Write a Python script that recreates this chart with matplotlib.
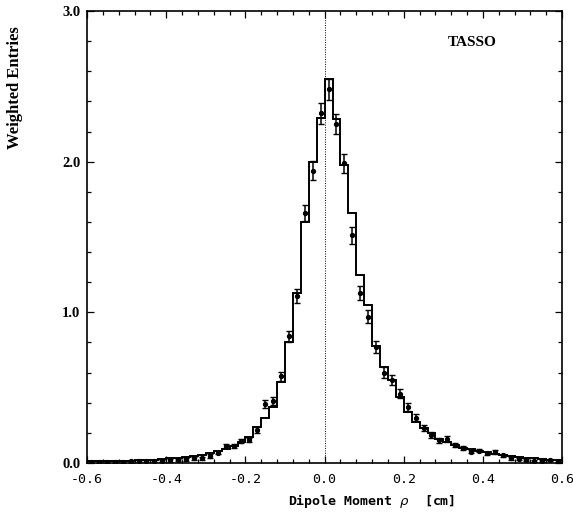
import numpy as np
import matplotlib
matplotlib.use("Agg")
import matplotlib.pyplot as plt
from matplotlib.ticker import MultipleLocator

# bins of 0.02 cm from -0.6 to 0.6
bin_edges = np.linspace(-0.6, 0.6, 61)
bin_centers = 0.5 * (bin_edges[:-1] + bin_edges[1:])

# Monte Carlo histogram (solid line)
mc_hist = [
    0.010, 0.010, 0.012, 0.012, 0.015, 0.015, 0.018, 0.020, 0.022, 0.025,
    0.030, 0.035, 0.040, 0.048, 0.055, 0.065, 0.080, 0.095, 0.110, 0.140,
    0.175, 0.240, 0.300, 0.370, 0.540, 0.800, 1.130, 1.600, 2.000, 2.290,
    2.550, 2.280, 1.980, 1.660, 1.250, 1.050, 0.775, 0.640, 0.550, 0.440,
    0.340, 0.275, 0.230, 0.200, 0.160, 0.140, 0.120, 0.100, 0.090, 0.080,
    0.070, 0.062, 0.055, 0.048, 0.042, 0.036, 0.030, 0.025, 0.020, 0.018,
]

# measured points
data_vals = [
    0.005, 0.008, 0.007, 0.007, 0.008, 0.010, 0.011, 0.012, 0.013, 0.015,
    0.017, 0.020, 0.025, 0.031, 0.031, 0.047, 0.069, 0.110, 0.110, 0.145,
    0.153, 0.220, 0.390, 0.410, 0.575, 0.840, 1.110, 1.660, 1.940, 2.320,
    2.480, 2.250, 1.990, 1.510, 1.130, 0.970, 0.770, 0.600, 0.550, 0.460,
    0.370, 0.300, 0.230, 0.185, 0.150, 0.160, 0.120, 0.100, 0.075, 0.082,
    0.065, 0.073, 0.050, 0.031, 0.027, 0.020, 0.013, 0.012, 0.020, 0.015,
]

data_errs = [
    0.006, 0.006, 0.006, 0.006, 0.006, 0.007, 0.007, 0.007, 0.007, 0.008,
    0.008, 0.008, 0.009, 0.010, 0.010, 0.011, 0.012, 0.013, 0.013, 0.015,
    0.015, 0.018, 0.025, 0.026, 0.030, 0.037, 0.045, 0.055, 0.062, 0.068,
    0.072, 0.066, 0.062, 0.056, 0.048, 0.044, 0.040, 0.035, 0.033, 0.030,
    0.027, 0.024, 0.021, 0.019, 0.017, 0.018, 0.015, 0.014, 0.012, 0.012,
    0.011, 0.011, 0.010, 0.009, 0.008, 0.007, 0.006, 0.006, 0.007, 0.006,
]

fig = plt.figure(figsize=(5.73, 5.13), dpi=100)
ax = fig.add_axes([0.152, 0.0975, 0.829, 0.881])

ax.stairs(mc_hist, bin_edges, baseline=None, color="black", linewidth=1.4)
ax.errorbar(bin_centers, data_vals, yerr=data_errs, fmt="o", color="black",
            markersize=2.8, elinewidth=1.1, capsize=2.2, capthick=1.0)
ax.axvline(0.0, color="black", linestyle=(0, (1, 1.5)), linewidth=0.7)

ax.set_xlim(-0.6, 0.6)
ax.set_ylim(0.0, 3.0)

ax.xaxis.set_major_locator(MultipleLocator(0.2))
ax.xaxis.set_minor_locator(MultipleLocator(0.04))
ax.yaxis.set_major_locator(MultipleLocator(1.0))
ax.yaxis.set_minor_locator(MultipleLocator(0.2))
ax.tick_params(which="both", direction="in", top=True, right=True, width=0.9)
ax.tick_params(which="major", length=5)
ax.tick_params(which="minor", length=3)
for s in ax.spines.values():
    s.set_linewidth(1.2)

ax.set_xticks([-0.6, -0.4, -0.2, 0.0, 0.2, 0.4, 0.6])
ax.set_xticklabels(["-0.6", "-0.4", "-0.2", "0.0", "0.2", "0.4", "0.6"],
                   family="DejaVu Sans Mono", fontsize=9.5)
ax.set_yticks([0.0, 1.0, 2.0, 3.0])
ax.set_yticklabels(["0.0", "1.0", "2.0", "3.0"],
                   family="Liberation Serif", fontweight="bold", fontsize=10.5)
ax.tick_params(axis="x", pad=7)
ax.tick_params(axis="y", pad=5)

ax.set_xlabel("Dipole Moment $\\rho$  [cm]", family="DejaVu Sans Mono",
              fontweight="bold", fontsize=9.5)
ax.xaxis.set_label_coords(0.598, -0.064)
ax.set_ylabel("Weighted Entries", family="Liberation Serif",
              fontweight="bold", fontsize=12)
ax.yaxis.set_label_coords(-0.135, 0.83)

ax.text(0.31, 2.79, "TASSO", family="Liberation Serif", fontweight="bold",
        fontsize=11, va="center", ha="left")

fig.savefig("out.png", dpi=100)
